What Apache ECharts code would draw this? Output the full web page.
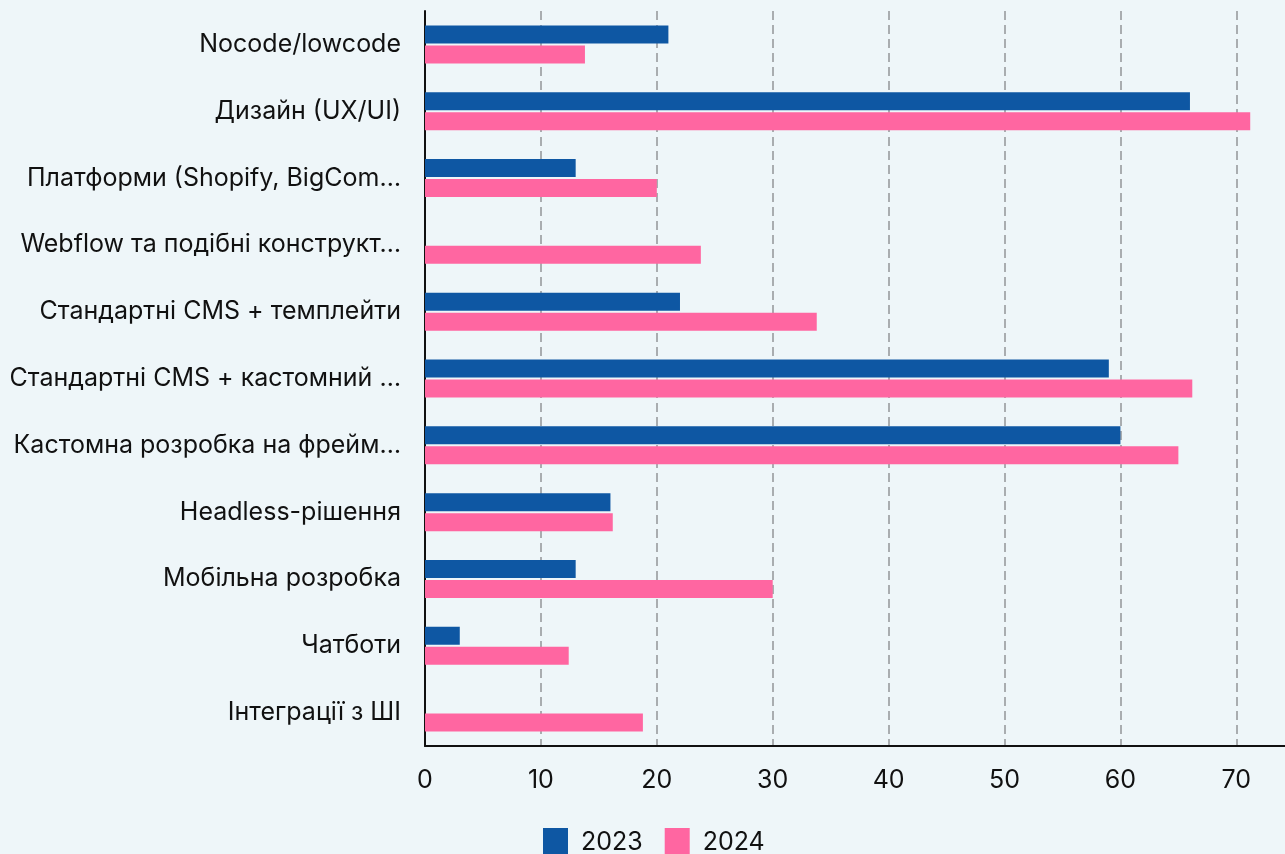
<!DOCTYPE html>
<html>
<head>
<meta charset="utf-8">
<script src="https://cdn.jsdelivr.net/npm/echarts@6/dist/echarts.min.js"></script>
<style>
html,body{margin:0;padding:0;background:#eef6f9;}
#chart{width:1285px;height:854px;}
</style>
</head>
<body>
<div id="chart"></div>
<script>
const categories = [
  "Nocode/lowcode",
  "Дизайн (UX/UI)",
  "Платформи (Shopify, BigCom…",
  "Webflow та подібні конструкт…",
  "Стандартні CMS + темплейти",
  "Стандартні CMS + кастомний …",
  "Кастомна розробка на фрейм…",
  "Headless-рішення",
  "Мобільна розробка",
  "Чатботи",
  "Інтеграції з ШІ"
];
const seriesNames = ["2023", "2024"];
const values2023 = [21, 66, 13, null, 22, 59, 60, 16, 13, 3, null];
const values2024 = [13.8, 71.2, 20, 23.8, 33.8, 66.2, 65, 16.2, 30, 12.4, 18.8];
const xTicks = [0, 10, 20, 30, 40, 50, 60, 70];

const FONT = "Inter, 'Noto Sans', sans-serif";
const chart = echarts.init(document.getElementById('chart'));
chart.setOption({
  backgroundColor: '#eef6f9',
  animation: false,
  textStyle: { fontFamily: FONT },
  legend: {
    data: seriesNames,
    left: 543,
    top: 828,
    padding: 0,
    itemWidth: 25,
    itemHeight: 28,
    itemGap: 22,
    icon: 'rect',
    textStyle: { fontSize: 25, color: '#111', fontFamily: FONT, padding: [0, 0, 0, 8] }
  },
  grid: { left: 425, right: 0, top: 11, bottom: 108 },
  xAxis: {
    type: 'value',
    min: 0,
    max: 74.2,
    interval: 10,
    axisLine: { show: true, lineStyle: { color: '#111', width: 2 } },
    axisTick: { show: false },
    axisLabel: {
      fontSize: 25, color: '#111', margin: 22, fontFamily: FONT,
      showMaxLabel: false,
      formatter: v => xTicks.includes(v) ? String(v) : ''
    },
    splitLine: {
      show: true, showMinLine: false, showMaxLine: false,
      lineStyle: { color: '#a9adb0', width: 2, type: [9, 5] }
    }
  },
  yAxis: {
    type: 'category',
    data: categories,
    inverse: true,
    axisLine: { show: true, lineStyle: { color: '#111', width: 2 } },
    axisTick: { show: false },
    axisLabel: { fontSize: 25, color: '#111', margin: 24, fontFamily: FONT, padding: [5, 0, 0, 0] }
  },
  series: [
    { name: seriesNames[0], type: 'bar', data: values2023, barWidth: 18, barGap: '11%', itemStyle: { color: '#0e57a3' } },
    { name: seriesNames[1], type: 'bar', data: values2024, barWidth: 18, barGap: '11%', itemStyle: { color: '#ff66a1' } }
  ]
});
</script>
</body>
</html>
